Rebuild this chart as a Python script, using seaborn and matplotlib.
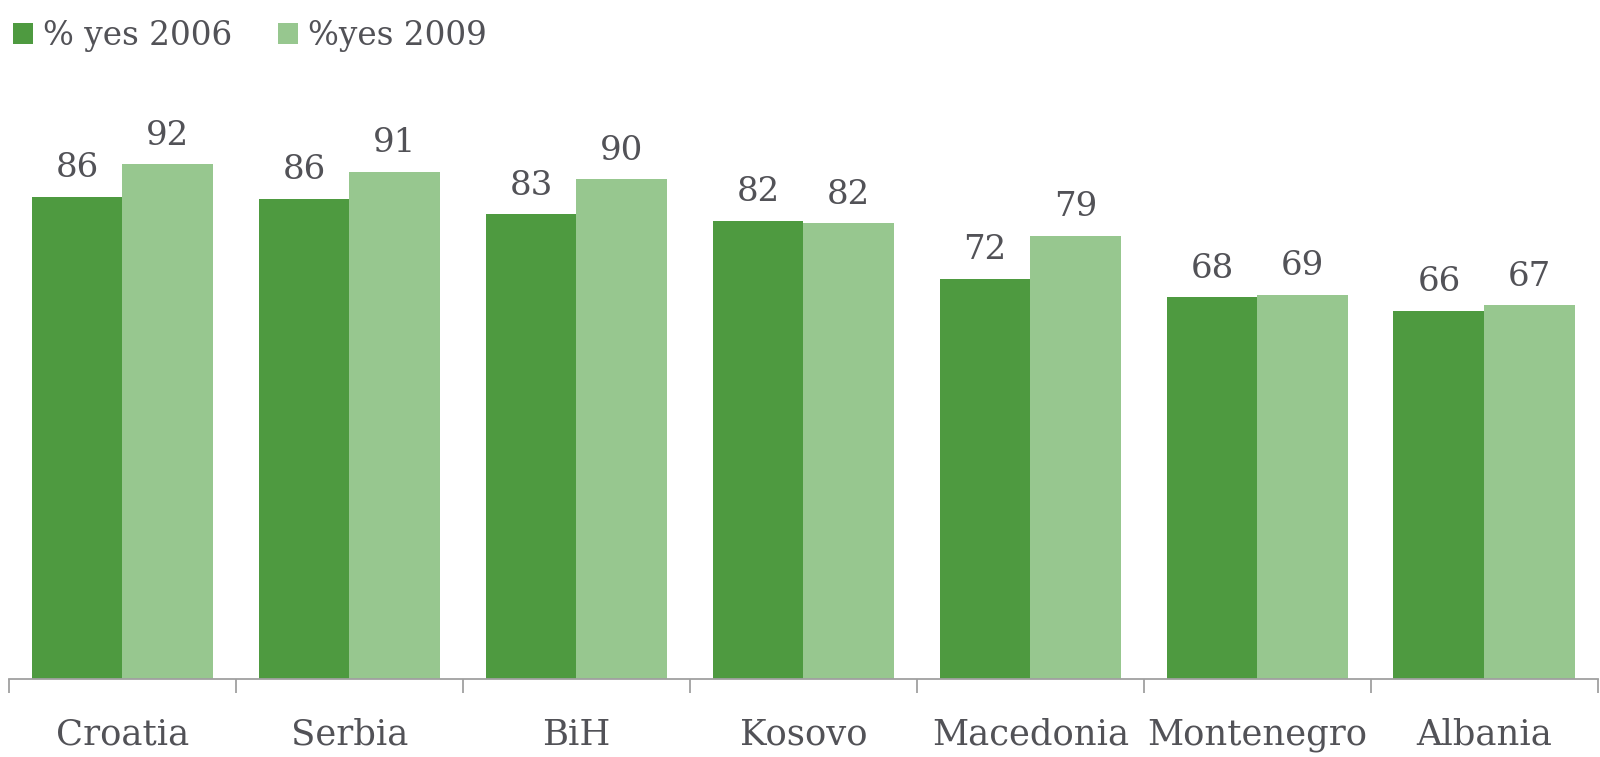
import matplotlib
matplotlib.use("Agg")
import matplotlib.pyplot as plt
import seaborn as sns
import pandas as pd
from matplotlib.ticker import FixedLocator
from matplotlib.patches import Patch

countries = ["Croatia", "Serbia", "BiH", "Kosovo", "Macedonia", "Montenegro", "Albania"]
yes_2006 = [86.4, 86.1, 83.3, 82.1, 71.7, 68.4, 66.0]
yes_2009 = [92.3, 90.9, 89.6, 81.7, 79.4, 68.9, 67.0]
series_names = ["% yes 2006", "%yes 2009"]
colors = ["#4e9a40", "#97c78f"]

df = pd.DataFrame({
    "country": countries * 2,
    "value": yes_2006 + yes_2009,
    "series": [series_names[0]] * len(countries) + [series_names[1]] * len(countries),
})

sns.set_style("white")
plt.rcParams["font.family"] = ["DejaVu Serif", "Liberation Serif"]
text_color = "#525257"

fig = plt.figure(figsize=(16, 7.57), dpi=100)
ax = fig.add_axes([0.0056, 0.1030, 0.993, 0.7371])

sns.barplot(data=df, x="country", y="value", hue="series", palette=colors,
            width=0.80, saturation=1, ax=ax, legend=False, errorbar=None,
            linewidth=0)

for cont in ax.containers:
    labels = [f"{round(v):d}" for v in cont.datavalues]
    ax.bar_label(cont, labels=labels, padding=9, fontsize=24.5, color=text_color)

ax.set_ylim(0, 100)
ax.set_xlim(-0.5, len(countries) - 0.5)
ax.set_xlabel("")
ax.set_ylabel("")
ax.set_yticks([])
for s in ["top", "right", "left"]:
    ax.spines[s].set_visible(False)
ax.spines["bottom"].set_color("#a0a0a0")
ax.spines["bottom"].set_linewidth(1.3)

ax.xaxis.set_minor_locator(FixedLocator([i - 0.5 for i in range(len(countries) + 1)]))
ax.tick_params(axis="x", which="minor", length=10, width=1.3, color="#a0a0a0", bottom=True)
ax.tick_params(axis="x", which="major", length=0, pad=28, labelsize=25.5, labelcolor=text_color)

handles = [Patch(facecolor=c, edgecolor="none") for c in colors]
fig.legend(handles, series_names, loc="upper left", bbox_to_anchor=(-0.006, 1.004),
           ncol=2, frameon=False, fontsize=23.5, labelcolor=text_color,
           handlelength=0.62, handleheight=0.62, handletextpad=0.3,
           columnspacing=1.4, borderaxespad=0.3)

fig.savefig("out.png", dpi=100, facecolor="white")
